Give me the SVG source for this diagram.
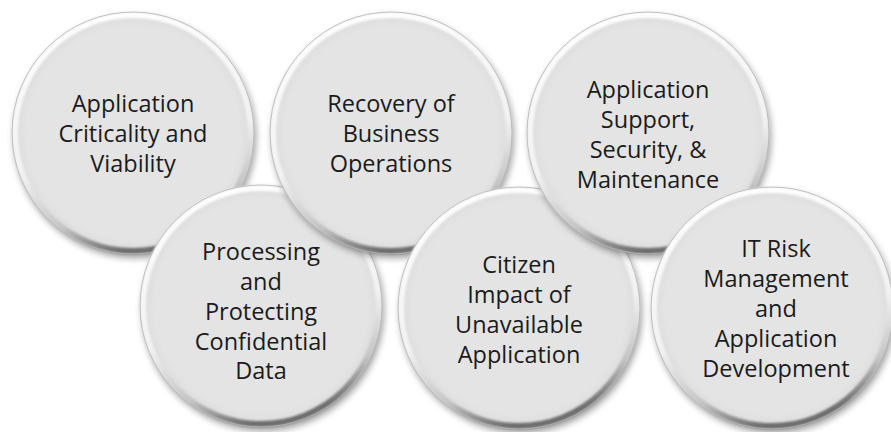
<svg xmlns="http://www.w3.org/2000/svg" width="891" height="432" viewBox="0 0 891 432">
<style>
  .shadow{fill:#000;opacity:0.38;filter:url(#sh)}
  .face{fill:url(#face)}
  .rim{fill:none;stroke:url(#rim);stroke-width:6;filter:url(#soft)}
  .edge{fill:none;stroke:#b4b4b4;stroke-width:0.8}
  text{font-family:"Open Sans","Liberation Sans",sans-serif;font-size:23.5px;fill:#1b1b1b;text-anchor:middle}
</style>
<defs>
  <linearGradient id="rim" x1="0.2" y1="0" x2="0.45" y2="1">
    <stop offset="0" stop-color="#ffffff"/>
    <stop offset="0.6" stop-color="#f2f2f2"/>
    <stop offset="0.85" stop-color="#c4c4c4"/>
    <stop offset="1" stop-color="#6e6e6e"/>
  </linearGradient>
  <radialGradient id="face" cx="0.5" cy="0.5" r="0.5">
    <stop offset="0.88" stop-color="#e4e4e4"/>
    <stop offset="1" stop-color="#dadada"/>
  </radialGradient>
  <filter id="sh" x="-20%" y="-20%" width="140%" height="140%">
    <feGaussianBlur stdDeviation="3.5"/>
  </filter>
  <filter id="soft" x="-10%" y="-10%" width="120%" height="120%">
    <feGaussianBlur stdDeviation="1.2"/>
  </filter>
</defs>
<rect width="891" height="432" fill="#fff"/>
<g id="connectors"></g>
<g id="n1">
  <circle class="shadow" cx="135" cy="137" r="121"/>
  <circle class="face" cx="133" cy="133" r="121"/>
  <circle class="rim" cx="133" cy="133" r="118"/>
  <circle class="edge" cx="133" cy="133" r="121"/>
  <text x="133" y="112">Application</text>
  <text x="133" y="142">Criticality and</text>
  <text x="133" y="172">Viability</text>
</g>
<g id="n4">
  <circle class="shadow" cx="263" cy="310" r="121"/>
  <circle class="face" cx="261" cy="306" r="121"/>
  <circle class="rim" cx="261" cy="306" r="118"/>
  <circle class="edge" cx="261" cy="306" r="121"/>
  <text x="261" y="260">Processing</text>
  <text x="261" y="290">and</text>
  <text x="261" y="320">Protecting</text>
  <text x="261" y="350">Confidential</text>
  <text x="261" y="379">Data</text>
</g>
<g id="n2">
  <circle class="shadow" cx="393" cy="137" r="121"/>
  <circle class="face" cx="391" cy="133" r="121"/>
  <circle class="rim" cx="391" cy="133" r="118"/>
  <circle class="edge" cx="391" cy="133" r="121"/>
  <text x="391" y="112">Recovery of</text>
  <text x="391" y="142">Business</text>
  <text x="391" y="172">Operations</text>
</g>
<g id="n5">
  <circle class="shadow" cx="521" cy="312" r="121"/>
  <circle class="face" cx="519" cy="308" r="121"/>
  <circle class="rim" cx="519" cy="308" r="118"/>
  <circle class="edge" cx="519" cy="308" r="121"/>
  <text x="519" y="273">Citizen</text>
  <text x="519" y="303">Impact of</text>
  <text x="519" y="333">Unavailable</text>
  <text x="519" y="363">Application</text>
</g>
<g id="n3">
  <circle class="shadow" cx="650" cy="137" r="121"/>
  <circle class="face" cx="648" cy="133" r="121"/>
  <circle class="rim" cx="648" cy="133" r="118"/>
  <circle class="edge" cx="648" cy="133" r="121"/>
  <text x="648" y="98">Application</text>
  <text x="648" y="128">Support,</text>
  <text x="648" y="158">Security, &amp;</text>
  <text x="648" y="188">Maintenance</text>
</g>
<g id="n6">
  <circle class="shadow" cx="774" cy="312" r="121"/>
  <circle class="face" cx="772" cy="308" r="121"/>
  <circle class="rim" cx="772" cy="308" r="118"/>
  <circle class="edge" cx="772" cy="308" r="121"/>
  <text x="776" y="257">IT Risk</text>
  <text x="776" y="287">Management</text>
  <text x="776" y="317">and</text>
  <text x="776" y="347">Application</text>
  <text x="776" y="377">Development</text>
</g>
</svg>
